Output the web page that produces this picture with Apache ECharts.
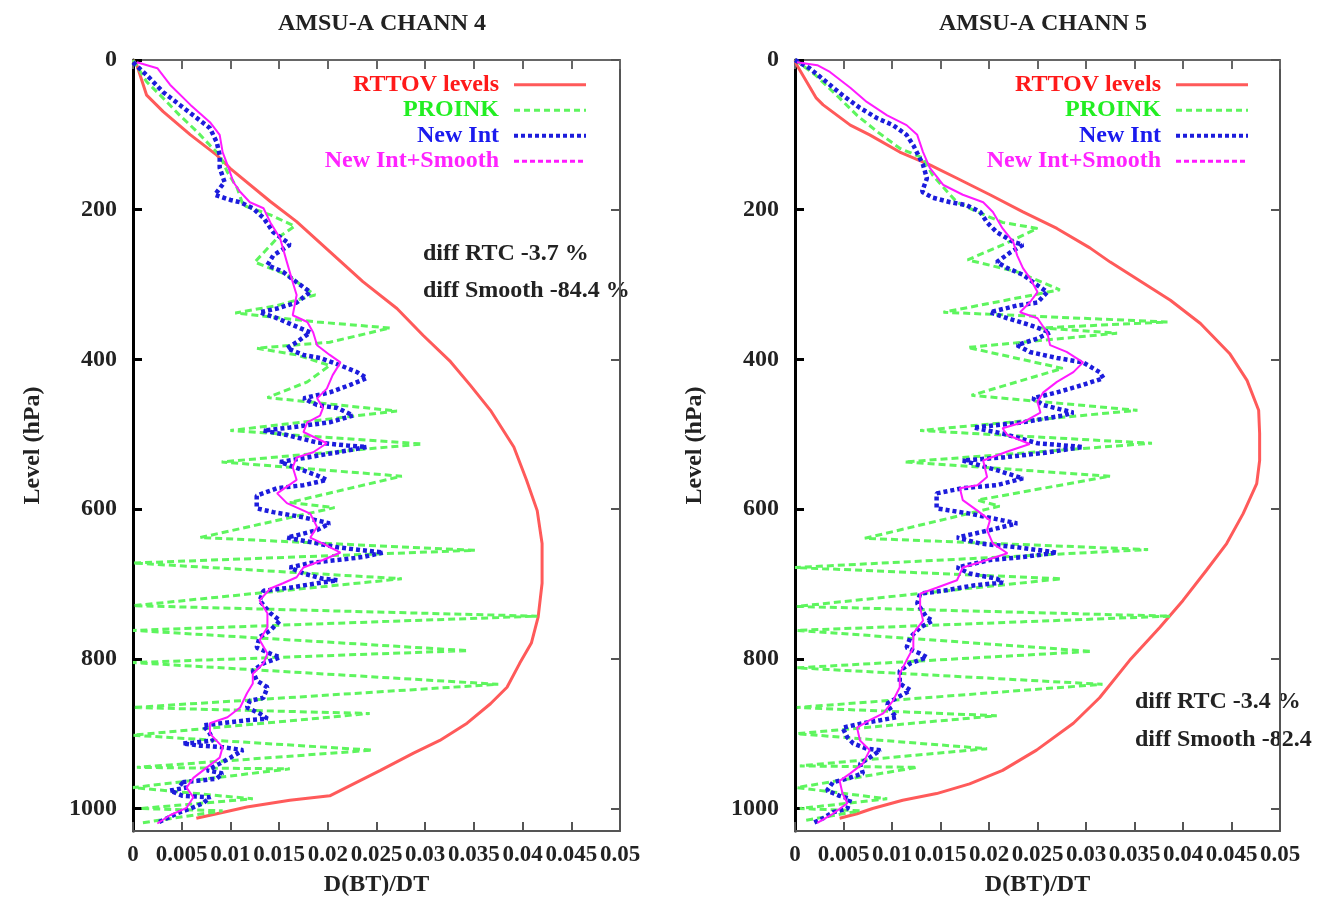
<!DOCTYPE html>
<html>
<head>
<meta charset="utf-8">
<script src="https://cdn.jsdelivr.net/npm/echarts@6/dist/echarts.min.js"></script>
<style>
html,body{margin:0;padding:0;background:#fff;}
#chart{width:1322px;height:910px;}
</style>
</head>
<body>
<div id="chart"></div>
<script>
// ---- data: [D(BT)/DT, level hPa] ----
const seriesNames = ['RTTOV levels', 'PROINK', 'New Int', 'New Int+Smooth'];
const panelTitles = ['AMSU-A CHANN 4', 'AMSU-A CHANN 5'];
const ch4Notes = ['diff RTC -3.7 %', 'diff Smooth -84.4 %'];
const ch5Notes = ['diff RTC -3.4 %', 'diff Smooth -82.4'];

const ch4Rttov = [[0,0],[0.0004,7],[0.0014,47],[0.0031,69],[0.0059,100],[0.0086,127],[0.0100,145],[0.0141,189],[0.0168,216],[0.0202,256],[0.0236,296],[0.0271,332],[0.0298,368],[0.0326,403],[0.0346,434],[0.0367,468],[0.0391,517],[0.0404,561],[0.0415,602],[0.0420,646],[0.0420,699],[0.0416,744],[0.0409,779],[0.0397,806],[0.0384,838],[0.0367,860],[0.0343,886],[0.0315,909],[0.0288,926],[0.0254,949],[0.0202,983],[0.0161,989],[0.0117,998],[0.0086,1007],[0.0065,1013]];

const ch4Proink = [[0,0],[0.0014,29],[0.0031,51],[0.0048,74],[0.0066,96],[0.0079,114],[0.0089,127],[0.0097,150],[0.0107,171],[0.0113,194],[0.0141,207],[0.0166,222],[0.0148,238],[0.0125,270],[0.0158,287],[0.0187,314],[0.0148,328],[0.0105,338],[0.0189,350],[0.0264,358],[0.0202,377],[0.0127,385],[0.0168,394],[0.0202,408],[0.0179,430],[0.0138,451],[0.0271,469],[0.0100,495],[0.0297,513],[0.0091,537],[0.0276,556],[0.0161,591],[0.0207,598],[0.0069,638],[0.0351,655],[0.0000,672],[0.0276,693],[0.0000,729],[0.0415,743],[0.0000,762],[0.0344,789],[0.0000,805],[0.0375,834],[0.0000,865],[0.0243,873],[0.0000,902],[0.0246,922],[0.0004,945],[0.0161,947],[0.0000,972],[0.0123,987],[0.0007,1000],[0.0092,1003],[0.0010,1019]];

const ch4NewInt = [[0.0000,3],[0.0017,24],[0.0031,43],[0.0048,60],[0.0066,78],[0.0079,91],[0.0086,110],[0.0089,127],[0.0089,144],[0.0094,163],[0.0084,180],[0.0100,187],[0.0110,190],[0.0123,198],[0.0134,211],[0.0144,230],[0.0158,243],[0.0161,247],[0.0144,261],[0.0138,274],[0.0154,283],[0.0168,297],[0.0182,310],[0.0168,324],[0.0148,332],[0.0130,337],[0.0148,345],[0.0164,354],[0.0182,364],[0.0168,377],[0.0158,385],[0.0175,394],[0.0192,398],[0.0213,408],[0.0230,417],[0.0240,425],[0.0223,434],[0.0202,444],[0.0175,452],[0.0189,461],[0.0210,465],[0.0226,475],[0.0202,484],[0.0161,491],[0.0134,495],[0.0158,501],[0.0189,511],[0.0220,515],[0.0240,517],[0.0210,524],[0.0179,531],[0.0151,537],[0.0168,545],[0.0189,555],[0.0199,561],[0.0175,568],[0.0148,572],[0.0127,582],[0.0127,599],[0.0144,604],[0.0175,611],[0.0202,619],[0.0189,628],[0.0168,635],[0.0158,638],[0.0182,644],[0.0210,651],[0.0236,655],[0.0257,658],[0.0236,664],[0.0210,668],[0.0182,672],[0.0161,678],[0.0175,686],[0.0195,693],[0.0210,695],[0.0189,699],[0.0161,705],[0.0134,709],[0.0130,722],[0.0141,739],[0.0151,749],[0.0141,762],[0.0130,771],[0.0127,785],[0.0141,793],[0.0151,798],[0.0134,806],[0.0123,816],[0.0127,829],[0.0138,838],[0.0134,852],[0.0120,856],[0.0117,865],[0.0130,873],[0.0138,880],[0.0117,882],[0.0097,885],[0.0072,889],[0.0079,900],[0.0082,909],[0.0062,912],[0.0051,913],[0.0069,916],[0.0092,918],[0.0113,922],[0.0100,932],[0.0089,940],[0.0076,949],[0.0092,953],[0.0086,960],[0.0066,963],[0.0048,965],[0.0055,972],[0.0038,976],[0.0051,983],[0.0079,985],[0.0072,993],[0.0059,1000],[0.0048,1005],[0.0035,1013],[0.0025,1019]];

const ch4Smooth = [[0.0004,3],[0.0025,11],[0.0038,33],[0.0059,60],[0.0079,83],[0.0089,100],[0.0092,123],[0.0097,140],[0.0103,163],[0.0110,176],[0.0120,190],[0.0134,198],[0.0141,217],[0.0151,238],[0.0158,270],[0.0164,297],[0.0168,314],[0.0164,341],[0.0179,350],[0.0185,364],[0.0189,381],[0.0202,394],[0.0213,404],[0.0205,421],[0.0199,439],[0.0189,452],[0.0195,465],[0.0192,475],[0.0179,484],[0.0175,497],[0.0199,512],[0.0185,524],[0.0168,531],[0.0164,544],[0.0168,561],[0.0148,579],[0.0158,592],[0.0182,606],[0.0189,624],[0.0182,638],[0.0195,646],[0.0213,658],[0.0195,668],[0.0175,678],[0.0168,691],[0.0154,699],[0.0141,706],[0.0130,722],[0.0138,739],[0.0138,758],[0.0130,775],[0.0138,793],[0.0134,806],[0.0123,820],[0.0123,833],[0.0117,846],[0.0110,865],[0.0097,878],[0.0079,886],[0.0079,900],[0.0092,918],[0.0089,932],[0.0076,945],[0.0062,959],[0.0055,972],[0.0062,985],[0.0055,999],[0.0038,1009],[0.0025,1020]];

const ch5Rttov = [[0,0],[0.0002,7],[0.0022,51],[0.0029,60],[0.0057,87],[0.0077,100],[0.0108,123],[0.0139,140],[0.0167,158],[0.0201,180],[0.0235,203],[0.0270,225],[0.0304,251],[0.0325,270],[0.0387,321],[0.0418,352],[0.0448,392],[0.0466,428],[0.0478,468],[0.0479,499],[0.0479,535],[0.0476,566],[0.0462,606],[0.0445,646],[0.0424,682],[0.0400,722],[0.0376,758],[0.0345,802],[0.0314,852],[0.0287,886],[0.0249,922],[0.0214,949],[0.0180,967],[0.0146,980],[0.0111,989],[0.0080,1000],[0.0064,1007],[0.0046,1013]];

const ch5Proink = [[0,0],[0.0021,20],[0.0046,51],[0.0064,74],[0.0085,96],[0.0108,118],[0.0132,131],[0.0142,154],[0.0157,176],[0.0167,190],[0.0188,203],[0.0214,217],[0.0250,225],[0.0214,247],[0.0178,267],[0.0229,283],[0.0273,307],[0.0153,337],[0.0384,350],[0.0253,358],[0.0332,365],[0.0178,384],[0.0276,412],[0.0182,448],[0.0353,468],[0.0129,495],[0.0368,512],[0.0113,537],[0.0325,556],[0.0188,588],[0.0211,596],[0.0072,639],[0.0364,654],[0.0000,678],[0.0275,693],[0.0002,730],[0.0387,743],[0.0002,762],[0.0306,790],[0.0002,812],[0.0317,834],[0.0002,865],[0.0208,876],[0.0002,900],[0.0198,920],[0.0005,943],[0.0126,945],[0.0002,972],[0.0095,987],[0.0005,1000],[0.0067,1003],[0.0010,1016]];

const ch5NewInt = [[0,0],[0.0015,11],[0.0033,30],[0.0049,47],[0.0067,64],[0.0085,78],[0.0101,87],[0.0115,100],[0.0122,114],[0.0127,127],[0.0132,140],[0.0136,158],[0.0131,176],[0.0142,184],[0.0160,190],[0.0177,194],[0.0191,203],[0.0198,217],[0.0208,230],[0.0225,243],[0.0235,247],[0.0222,257],[0.0208,270],[0.0219,278],[0.0235,287],[0.0250,301],[0.0260,310],[0.0250,324],[0.0229,328],[0.0201,337],[0.0219,345],[0.0242,354],[0.0263,364],[0.0250,372],[0.0229,381],[0.0242,390],[0.0270,398],[0.0297,404],[0.0314,417],[0.0318,425],[0.0297,434],[0.0270,444],[0.0245,452],[0.0256,461],[0.0287,471],[0.0276,475],[0.0235,484],[0.0184,491],[0.0214,499],[0.0250,512],[0.0297,517],[0.0256,525],[0.0214,531],[0.0173,535],[0.0208,548],[0.0235,559],[0.0208,568],[0.0173,572],[0.0146,579],[0.0146,599],[0.0180,606],[0.0214,615],[0.0229,619],[0.0201,628],[0.0167,638],[0.0191,646],[0.0229,651],[0.0270,658],[0.0235,664],[0.0201,668],[0.0167,678],[0.0180,686],[0.0208,693],[0.0214,698],[0.0184,702],[0.0153,709],[0.0129,713],[0.0126,726],[0.0136,745],[0.0142,749],[0.0129,758],[0.0119,771],[0.0115,785],[0.0129,793],[0.0136,798],[0.0119,806],[0.0108,816],[0.0108,833],[0.0119,842],[0.0105,852],[0.0095,860],[0.0101,873],[0.0105,878],[0.0088,882],[0.0070,886],[0.0049,892],[0.0054,905],[0.0060,913],[0.0074,920],[0.0088,922],[0.0077,932],[0.0067,940],[0.0070,953],[0.0054,960],[0.0039,965],[0.0033,976],[0.0046,983],[0.0057,987],[0.0054,1000],[0.0039,1005],[0.0029,1013],[0.0019,1019]];

const ch5Smooth = [[0.0002,3],[0.0023,7],[0.0036,16],[0.0057,37],[0.0074,56],[0.0095,74],[0.0115,87],[0.0126,100],[0.0132,123],[0.0139,144],[0.0153,167],[0.0173,180],[0.0194,190],[0.0204,203],[0.0214,225],[0.0225,243],[0.0229,261],[0.0235,278],[0.0242,291],[0.0250,310],[0.0242,324],[0.0232,337],[0.0250,345],[0.0260,364],[0.0263,381],[0.0280,390],[0.0297,404],[0.0287,417],[0.0270,430],[0.0256,444],[0.0250,457],[0.0253,471],[0.0235,484],[0.0214,492],[0.0219,501],[0.0242,513],[0.0219,523],[0.0194,535],[0.0198,557],[0.0188,568],[0.0170,572],[0.0173,588],[0.0188,602],[0.0201,615],[0.0198,628],[0.0204,646],[0.0219,659],[0.0198,668],[0.0173,678],[0.0167,695],[0.0146,705],[0.0129,713],[0.0129,731],[0.0132,749],[0.0122,766],[0.0122,785],[0.0115,802],[0.0108,820],[0.0108,838],[0.0101,856],[0.0091,873],[0.0077,882],[0.0064,892],[0.0067,909],[0.0077,922],[0.0070,940],[0.0057,953],[0.0046,963],[0.0049,980],[0.0054,993],[0.0039,1007],[0.0023,1019]];

// ---- styling ----
const FONT = '"Liberation Serif", "Times New Roman", serif';
const textColors = ['#ff1a1a', '#22ee22', '#1a1aee', '#ff22ff'];
const lineStyles = [
  {color:'#ff5a5a', width:3, type:'solid'},
  {color:'#5ef55e', width:3, type:[7,4]},
  {color:'#1c1cdc', width:4.5, type:[4,3]},
  {color:'#ff1aff', width:2, type:'solid'}
];
const legendLineStyles = [
  {color:'#ff5a5a', width:3, type:'solid'},
  {color:'#5ef55e', width:3, type:[6,4]},
  {color:'#1c1cdc', width:4, type:[4,3]},
  {color:'#ff1aff', width:3, type:[5,3]}
];

const X_MAX = 0.05, X_INT = 0.005, Y_MAX = 1030, Y_INT = 200;
const grids = [
  {left:133, top:60, width:487, height:771},
  {left:795, top:60, width:485, height:771}
];

function xAx(gi, pos, labels, color) {
  return {
    type:'value', gridIndex:gi, position:pos, min:0, max:X_MAX, interval:X_INT,
    axisLine:{show:true, onZero:false, lineStyle:{color:color, width:2}},
    axisTick:{show:true, inside:true, length:9, lineStyle:{color:color, width:2}},
    splitLine:{show:false},
    axisLabel:{show:labels, margin:13, color:'#222', fontFamily:FONT, fontWeight:'bold', fontSize:23},
    name: labels ? 'D(BT)/DT' : '', nameLocation:'middle', nameGap:42,
    nameTextStyle:{color:'#222', fontFamily:FONT, fontWeight:'bold', fontSize:24}
  };
}
function yAx(gi, pos, labels, color) {
  return {
    type:'value', gridIndex:gi, position:pos, min:0, max:Y_MAX, interval:Y_INT, inverse:true,
    axisLine:{show:true, onZero:false, lineStyle:{color:color, width:labels?3:2}},
    axisTick:{show:true, inside:true, length:9, lineStyle:{color:color, width:labels?3:2}},
    splitLine:{show:false},
    axisLabel:{show:labels, margin:16, showMaxLabel:false, formatter:(v) => String(v),
      color:'#222', fontFamily:FONT, fontWeight:'bold', fontSize:24},
    name: labels ? 'Level (hPa)' : '', nameLocation:'middle', nameGap:88, nameRotate:90,
    nameTextStyle:{color:'#222', fontFamily:FONT, fontWeight:'bold', fontSize:24}
  };
}

const panels = [
  [ch4Rttov, ch4Proink, ch4NewInt, ch4Smooth],
  [ch5Rttov, ch5Proink, ch5NewInt, ch5Smooth]
];
const series = [];
panels.forEach((p, gi) => {
  p.forEach((d, si) => {
    series.push({
      type:'line', name:seriesNames[si], data:d,
      xAxisIndex:gi*2, yAxisIndex:gi*2,
      showSymbol:false, symbol:'none', clip:true,
      lineStyle:lineStyles[si], itemStyle:{color:lineStyles[si].color},
      emphasis:{disabled:true}
    });
  });
});

function legend(right) {
  return {
    orient:'vertical', align:'right', right:right, top:72, padding:0, itemGap:0,
    itemWidth:72, itemHeight:12, selectedMode:false,
    itemStyle:{opacity:0},
    data: seriesNames.map((n, i) => ({name:n, textStyle:{color:textColors[i]}, lineStyle:legendLineStyles[i]})),
    textStyle:{fontFamily:FONT, fontWeight:'bold', fontSize:24, lineHeight:25.5, padding:[0,10,0,0]}
  };
}

const noteStyle = {font:'bold 24px ' + FONT, fill:'#222'};
const option = {
  animation:false,
  backgroundColor:'#fff',
  title: panelTitles.map((t, i) => ({
    text:t, left: i===0 ? 377 : 1038, top:7, textAlign:'center',
    textStyle:{fontFamily:FONT, fontWeight:'bold', fontSize:24, color:'#222'}
  })),
  grid: grids,
  xAxis: [xAx(0,'bottom',true,'#555'), xAx(0,'top',false,'#666'), xAx(1,'bottom',true,'#555'), xAx(1,'top',false,'#666')],
  yAxis: [yAx(0,'left',true,'#000'), yAx(0,'right',false,'#555'), yAx(1,'left',true,'#000'), yAx(1,'right',false,'#555')],
  legend: [legend(734), legend(72)],
  graphic: [
    {type:'text', left:423, top:242, style:Object.assign({text:ch4Notes[0]}, noteStyle)},
    {type:'text', left:423, top:279, style:Object.assign({text:ch4Notes[1]}, noteStyle)},
    {type:'text', left:1135, top:690, style:Object.assign({text:ch5Notes[0]}, noteStyle)},
    {type:'text', left:1135, top:728, style:Object.assign({text:ch5Notes[1]}, noteStyle)}
  ],
  series: series
};
const chart = echarts.init(document.getElementById('chart'), null, {renderer:'canvas'});
chart.setOption(option);
</script>
</body>
</html>
